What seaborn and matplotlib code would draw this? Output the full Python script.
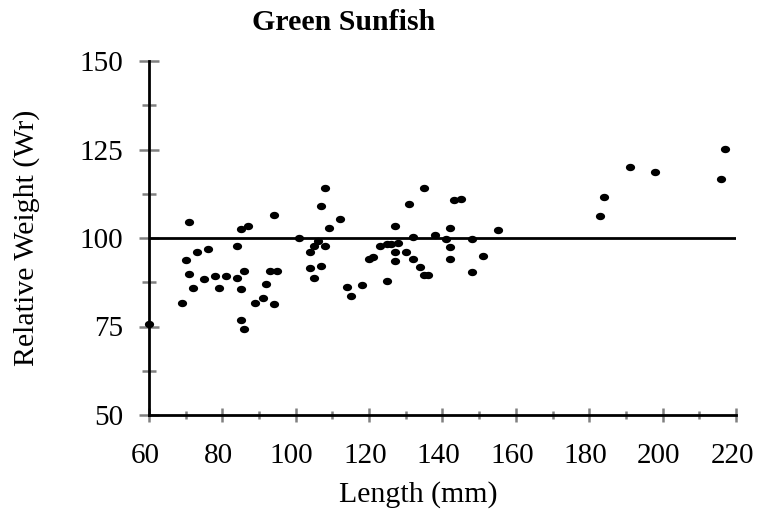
import numpy as np
import pandas as pd
import matplotlib
matplotlib.use("Agg")
import matplotlib.pyplot as plt
from matplotlib.path import Path
from matplotlib.ticker import MultipleLocator
from matplotlib.transforms import ScaledTranslation
import seaborn as sns

# ---- data ----
length_mm = [60, 69, 70, 71, 71, 72, 73, 75, 76, 78, 79, 81, 84, 84, 85, 85, 85, 86, 86, 87,
             89, 91, 92, 93, 94, 94, 95, 101, 104, 104, 105, 105, 106, 107, 107, 108, 108, 109,
             112, 114, 115, 118, 120, 121, 123, 125, 125, 126, 127, 127, 127, 128, 130, 131,
             132, 132, 134, 135, 135, 136, 138, 141, 142, 142, 142, 143, 145, 148, 148, 151,
             155, 183, 184, 191, 198, 216, 217]
rel_weight = [75.6, 81.6, 93.8, 104.5, 89.7, 85.9, 96.0, 88.3, 96.8, 89.3, 85.9, 89.3, 97.6, 88.7,
              102.5, 85.5, 76.9, 74.2, 90.7, 103.4, 81.6, 83.1, 86.9, 90.6, 106.4, 81.4, 90.7,
              100.1, 96.1, 91.5, 88.8, 97.7, 99.1, 92.1, 108.9, 114.0, 97.7, 102.8, 105.4, 86.1,
              83.7, 86.6, 94.0, 94.5, 97.7, 87.9, 98.3, 98.3, 103.4, 96.0, 93.6, 98.6, 96.1,
              109.6, 100.4, 94.0, 91.7, 114.0, 89.6, 89.6, 100.8, 99.6, 102.7, 97.5, 94.1,
              110.7, 110.9, 99.6, 90.4, 94.9, 102.2, 106.2, 111.5, 120.1, 118.6, 116.6, 125.2]
reference_wr = 100
x_ticks = [60, 80, 100, 120, 140, 160, 180, 200, 220]
y_ticks = [50, 75, 100, 125, 150]
title_text = "Green Sunfish"
x_label = "Length (mm)"
y_label = "Relative Weight (Wr)"

df = pd.DataFrame({"Length": length_mm, "Wr": rel_weight})

sns.set_theme(style="white")
plt.rcParams["font.family"] = ["Liberation Serif", "DejaVu Serif"]
plt.rcParams["text.color"] = "black"
plt.rcParams["axes.labelcolor"] = "black"

fig = plt.figure(figsize=(7.58, 5.13), dpi=100)
L, R, T, B = 149.0, 736.0, 61.0, 415.0
ax = fig.add_axes([L / 758, 1 - B / 513, (R - L) / 758, (B - T) / 513])

# slightly wide elliptical dot
t = np.linspace(0, 2 * np.pi, 60)
ell = Path(np.column_stack([np.cos(t), 0.8 * np.sin(t)]), closed=True)

sns.scatterplot(data=df, x="Length", y="Wr", ax=ax, marker=ell, s=44,
                color="black", edgecolor="black", linewidth=0, clip_on=False, zorder=3)

ax.axhline(reference_wr, color="black", lw=2.0, zorder=2)

ax.set_xlim(60, 220)
ax.set_ylim(50, 150)
ax.set_xticks(x_ticks)
ax.set_yticks(y_ticks)
ax.xaxis.set_minor_locator(MultipleLocator(10))
ax.yaxis.set_minor_locator(MultipleLocator(12.5))

for side in ["top", "right"]:
    ax.spines[side].set_visible(False)
for side in ["left", "bottom"]:
    ax.spines[side].set_color("black")
    ax.spines[side].set_linewidth(2.0)
    ax.spines[side].set_zorder(2.5)

ax.tick_params(axis="both", which="both", bottom=True, left=True, top=False, right=False)
ax.tick_params(axis="y", which="major", direction="inout", length=15, width=1.8,
               color="#808080", labelsize=21, pad=11, labelcolor="black")
ax.tick_params(axis="y", which="minor", direction="inout", length=10, width=1.8,
               color="#808080")
ax.tick_params(axis="x", which="major", direction="inout", length=10, width=1.8,
               color="#808080", labelsize=21, pad=15, labelcolor="black")
ax.tick_params(axis="x", which="minor", direction="inout", length=6, width=1.8,
               color="#808080")

# x tick labels sit a few pixels left of their ticks in the reference
shift = ScaledTranslation(-4 / 100, 0, fig.dpi_scale_trans)
for lab in ax.get_xticklabels():
    lab.set_transform(lab.get_transform() + shift)

ax.set_xlabel(x_label, fontsize=21.5, va="center", color="black")
ax.xaxis.set_label_coords((418.5 - L) / (R - L), -(495 - B) / (B - T))
ax.set_ylabel(y_label, fontsize=21.5, va="center", color="black")
ax.yaxis.set_label_coords(-(L - 27) / (R - L), 0.5)

fig.text(343.5 / 758, 1 - 22 / 513, title_text, ha="center", va="center",
         fontsize=21.5, fontweight="bold", color="black")

fig.savefig("out.png", dpi=100)
